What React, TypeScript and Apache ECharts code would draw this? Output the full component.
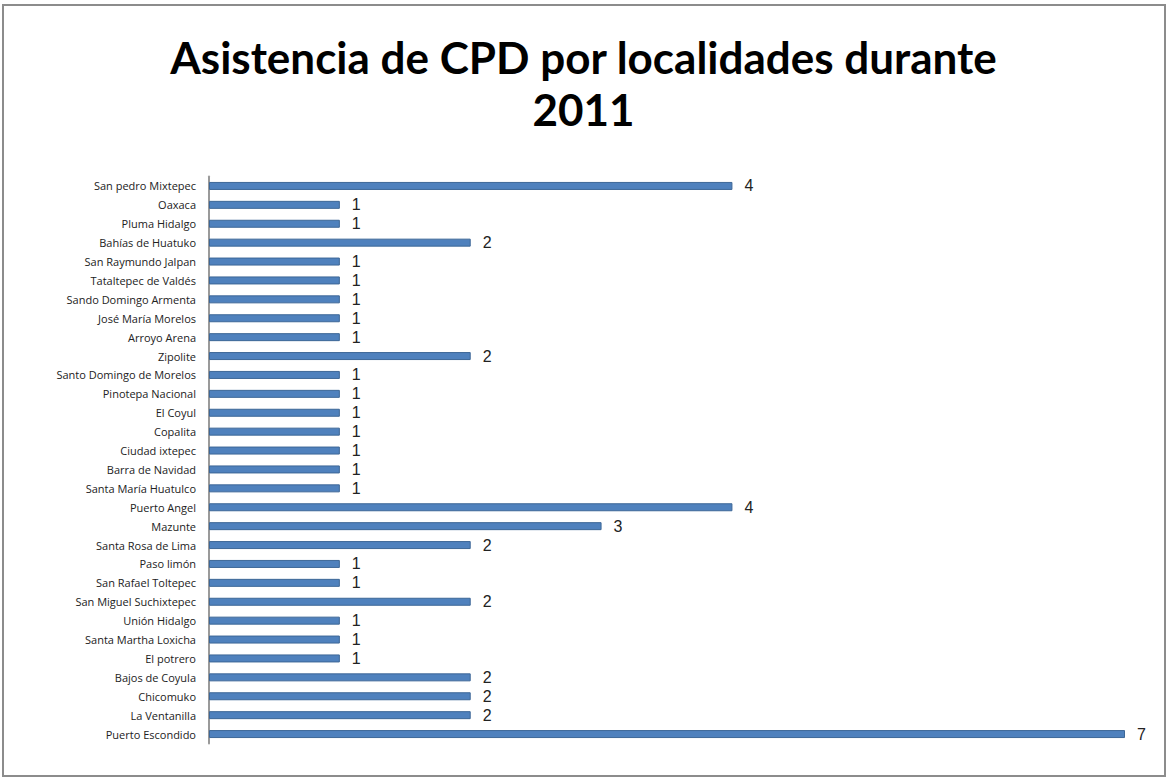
import React, { useEffect, useRef } from "react";
import * as echarts from "echarts";

const titleText = "Asistencia de CPD por localidades durante\n2011";

const categories = [
  "San pedro Mixtepec",
  "Oaxaca",
  "Pluma Hidalgo",
  "Bahías de Huatuko",
  "San Raymundo Jalpan",
  "Tataltepec de Valdés",
  "Sando Domingo Armenta",
  "José María Morelos",
  "Arroyo Arena",
  "Zipolite",
  "Santo Domingo de Morelos",
  "Pinotepa Nacional",
  "El Coyul",
  "Copalita",
  "Ciudad ixtepec",
  "Barra de Navidad",
  "Santa María Huatulco",
  "Puerto Angel",
  "Mazunte",
  "Santa Rosa de Lima",
  "Paso limón",
  "San Rafael Toltepec",
  "San Miguel Suchixtepec",
  "Unión Hidalgo",
  "Santa Martha Loxicha",
  "El potrero",
  "Bajos de Coyula",
  "Chicomuko",
  "La Ventanilla",
  "Puerto Escondido",
];

const values = [4, 1, 1, 2, 1, 1, 1, 1, 1, 2, 1, 1, 1, 1, 1, 1, 1, 4, 3, 2, 1, 1, 2, 1, 1, 1, 2, 2, 2, 7];

export default function App() {
  const ref = useRef<HTMLDivElement>(null);

  useEffect(() => {
    if (!ref.current) return;
    const chart = echarts.init(ref.current, undefined, { renderer: "svg" });
    chart.setOption({
      animation: false,
      backgroundColor: "#ffffff",
      title: {
        text: titleText,
        left: "center",
        top: 26,
        textStyle: {
          fontFamily: "Lato",
          fontWeight: "bold",
          fontSize: 44,
          lineHeight: 52,
          color: "#000000",
        },
      },
      graphic: [
        {
          type: "rect",
          shape: { x: 3, y: 5, width: 1162, height: 771 },
          style: { fill: "none", stroke: "#8c8c8c", lineWidth: 2 },
          silent: true,
        },
      ],
      grid: { left: 209, right: 42, top: 176.5, bottom: 34.5, containLabel: false },
      xAxis: {
        type: "value",
        min: 0,
        max: 7,
        show: false,
      },
      yAxis: {
        type: "category",
        data: categories,
        inverse: true,
        axisLine: { show: true, lineStyle: { color: "#9a9a9a", width: 2 } },
        axisTick: { show: false },
        axisLabel: {
          fontFamily: "Open Sans",
          fontSize: 11,
          lineHeight: 14,
          color: "#222222",
          margin: 13,
        },
      },
      series: [
        {
          type: "bar",
          data: values,
          barWidth: 8,
          itemStyle: {
            color: "#4f81bd",
            borderColor: "#3d6797",
            borderWidth: 1,
          },
          label: {
            show: true,
            position: "right",
            distance: 12,
            fontFamily: "Liberation Sans",
            fontSize: 16,
            lineHeight: 16,
            color: "#222222",
          },
        },
      ],
    });
    return () => chart.dispose();
  }, []);

  return (
    <div
      ref={ref}
      style={{ position: "fixed", left: 0, top: 0, width: 1167, height: 778 }}
    />
  );
}
